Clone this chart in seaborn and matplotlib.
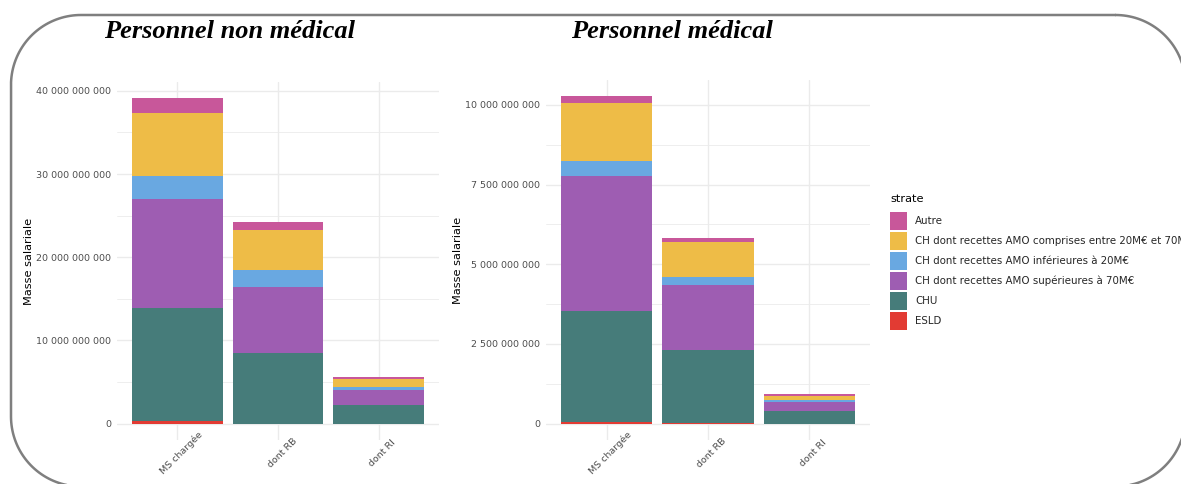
import matplotlib
matplotlib.use('Agg')
import matplotlib.pyplot as plt
import matplotlib.ticker as ticker
import matplotlib.transforms as mtransforms
from matplotlib.patches import Patch
import numpy as np
import pandas as pd
import seaborn as sns

# -------------------------
# DATA
# -------------------------
categories = ['MS chargée', 'dont RB', 'dont RI']
strates = ['Autre',
           'CH dont recettes AMO comprises entre 20M€ et 70M€',
           'CH dont recettes AMO inférieures à 20M€',
           'CH dont recettes AMO supérieures à 70M€',
           'CHU',
           'ESLD']

# values per strate (bottom of stack = ESLD, top = Autre)
non_med_esld = [0.30e9, 0.02e9, 0.01e9]
non_med_chu = [13.6e9, 8.43e9, 2.25e9]
non_med_sup70 = [13.1e9, 7.95e9, 1.74e9]
non_med_inf20 = [2.8e9, 2.1e9, 0.37e9]
non_med_20_70 = [7.5e9, 4.75e9, 1.03e9]
non_med_autre = [1.8e9, 1.0e9, 0.27e9]

med_esld = [0.04e9, 0.005e9, 0.002e9]
med_chu = [3.48e9, 2.31e9, 0.41e9]
med_sup70 = [4.26e9, 2.04e9, 0.28e9]
med_inf20 = [0.47e9, 0.23e9, 0.055e9]
med_20_70 = [1.81e9, 1.12e9, 0.135e9]
med_autre = [0.21e9, 0.12e9, 0.05e9]

colors = {
    'Autre': '#C8579A',
    'CH dont recettes AMO comprises entre 20M€ et 70M€': '#EEBC47',
    'CH dont recettes AMO inférieures à 20M€': '#69A8E1',
    'CH dont recettes AMO supérieures à 70M€': '#9E5DB2',
    'CHU': '#467C7A',
    'ESLD': '#E23B33',
}

# stacking order, bottom to top
stack_order = ['ESLD', 'CHU',
               'CH dont recettes AMO supérieures à 70M€',
               'CH dont recettes AMO inférieures à 20M€',
               'CH dont recettes AMO comprises entre 20M€ et 70M€',
               'Autre']

non_med = {'ESLD': non_med_esld, 'CHU': non_med_chu,
           'CH dont recettes AMO supérieures à 70M€': non_med_sup70,
           'CH dont recettes AMO inférieures à 20M€': non_med_inf20,
           'CH dont recettes AMO comprises entre 20M€ et 70M€': non_med_20_70,
           'Autre': non_med_autre}
med = {'ESLD': med_esld, 'CHU': med_chu,
       'CH dont recettes AMO supérieures à 70M€': med_sup70,
       'CH dont recettes AMO inférieures à 20M€': med_inf20,
       'CH dont recettes AMO comprises entre 20M€ et 70M€': med_20_70,
       'Autre': med_autre}

fmt = ticker.FuncFormatter(lambda x, _: '{:,.0f}'.format(x).replace(',', ' '))
tick_grey = '#4D4D4D'
grid_col = '#EBEBEB'


def draw_stack(ax, data, major_step):
    # cumulative tops, drawn tallest first so lower layers overlay
    cum = np.zeros(len(categories))
    tops = []
    for s in stack_order:
        cum = cum + np.array(data[s])
        tops.append((s, cum.copy()))
    for s, top in reversed(tops):
        df = pd.DataFrame({'cat': categories, 'val': top})
        sns.barplot(data=df, x='cat', y='val', color=colors[s], width=0.9,
                    saturation=1, ax=ax, order=categories, edgecolor='none')
    ymax = cum.max()
    ax.set_ylim(-0.05 * ymax, 1.05 * ymax)
    ax.set_xlim(-0.6, 2.6)
    ax.yaxis.set_major_locator(ticker.MultipleLocator(major_step))
    ax.yaxis.set_minor_locator(ticker.MultipleLocator(major_step / 2))
    ax.yaxis.set_major_formatter(fmt)
    ax.grid(True, which='major', color=grid_col, linewidth=1.0)
    ax.grid(True, which='minor', axis='y', color=grid_col, linewidth=0.6)
    ax.set_axisbelow(True)
    for sp in ax.spines.values():
        sp.set_visible(False)
    ax.tick_params(axis='y', length=0, labelsize=6.8, colors=tick_grey, pad=4)
    ax.tick_params(axis='x', length=0, labelsize=6.8, colors=tick_grey, pad=9.4)
    shift = mtransforms.ScaledTranslation(4 / 100, 0, fig.dpi_scale_trans)
    for lab in ax.get_xticklabels():
        lab.set_rotation(45)
        lab.set_ha('center')
        lab.set_va('center')
        lab.set_rotation_mode('anchor')
        lab.set_transform(lab.get_transform() + shift)
    ax.set_xlabel('')
    ax.set_ylabel('Masse salariale', fontsize=8.2, color='black', labelpad=2)


sns.set_style('white')
fig = plt.figure(figsize=(11.81, 4.84), dpi=100)
fig.patch.set_facecolor('white')

# rounded frame, pixel coordinates (image y downwards)
frame_ax = fig.add_axes([0, 0, 1, 1])
frame_ax.set_xlim(0, 1181)
frame_ax.set_ylim(484, 0)
frame_ax.axis('off')
x0, x1, y0, y1, r = 11, 1185.5, 15, 486.5, 70
pts = []
for cx, cy, a0 in [(x1 - r, y0 + r, -90), (x1 - r, y1 - r, 0),
                   (x0 + r, y1 - r, 90), (x0 + r, y0 + r, 180)]:
    t = np.radians(np.linspace(a0, a0 + 90, 40))
    pts.append(np.column_stack([cx + r * np.cos(t), cy + r * np.sin(t)]))
pts.append(pts[0][:1])
pts = np.vstack(pts)
frame_ax.plot(pts[:, 0], pts[:, 1], color='#7F7F7F', linewidth=1.8,
              solid_capstyle='round', clip_on=True)

ax1 = fig.add_axes([0.0991, 0.0909, 0.2726, 0.7397])
ax2 = fig.add_axes([0.4623, 0.0909, 0.2743, 0.7440])
draw_stack(ax1, non_med, 10e9)
draw_stack(ax2, med, 2.5e9)

title_font = dict(family='Liberation Serif', fontweight='bold', style='italic',
                  fontsize=19, color='black')
fig.text(230 / 1181, 1 - 31 / 484, 'Personnel non médical', ha='center', va='center', **title_font)
fig.text(672 / 1181, 1 - 31 / 484, 'Personnel médical', ha='center', va='center', **title_font)

# legend title set apart so the gap to the keys matches
fig.text(890 / 1181, 1 - 199 / 484, 'strate', ha='left', va='center', fontsize=8.2, color='black')
handles = [Patch(facecolor=colors[s], edgecolor='none') for s in strates]
fig.legend(handles, strates, loc='upper left',
           bbox_to_anchor=(890 / 1181, 1 - 212 / 484), frameon=False,
           fontsize=7.4, handlelength=1.7, handleheight=2.3, borderpad=0,
           labelspacing=0.2, handletextpad=0.75, borderaxespad=0)

fig.savefig('out.png', dpi=100, facecolor='white')
